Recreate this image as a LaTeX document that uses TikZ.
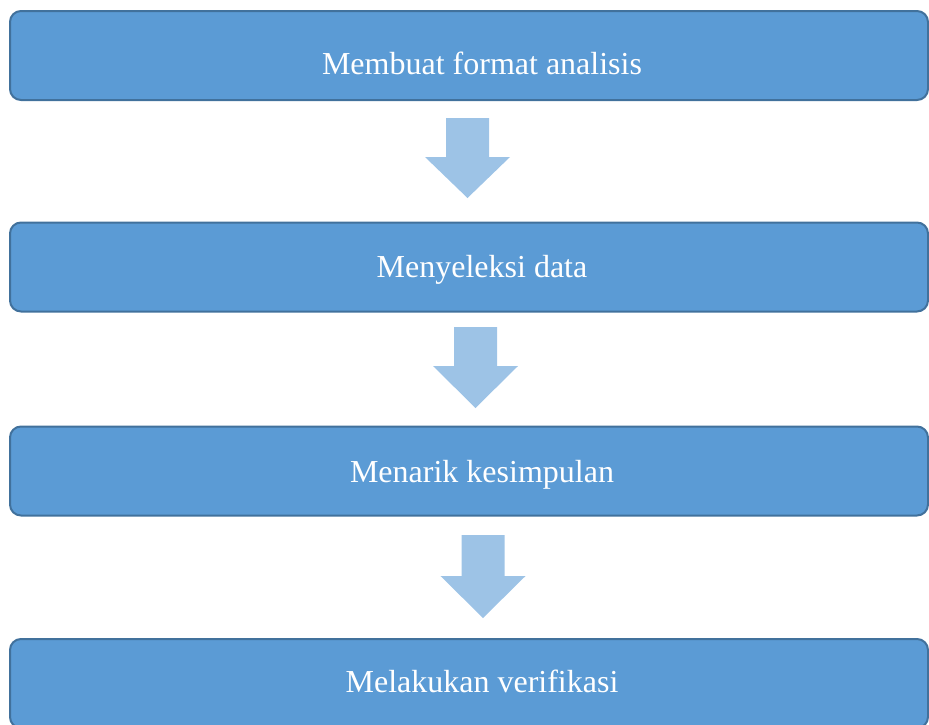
\documentclass[tikz,border=0pt]{standalone}
\usepackage{fontspec}
\setmainfont{Liberation Serif}
\usetikzlibrary{positioning}
\definecolor{boxfill}{HTML}{5B9BD5}
\definecolor{boxline}{HTML}{41719C}
\definecolor{arrowfill}{HTML}{9DC3E6}
\tikzset{
  stepbox/.style={draw=boxline, line width=2pt, fill=boxfill, rounded corners=11pt,
    minimum width=918pt, minimum height=89pt, inner sep=0pt},
  steptext/.style={text=white, font=\fontsize{32}{38}\selectfont, inner sep=0pt, anchor=base},
  flowarrow/.style={fill=arrowfill}
}
% block arrow: centre x, top of shaft, start of head, tip
\newcommand\downblock[4]{%
  \fill[flowarrow] (#1-21.5,#2) -- (#1+21.5,#2) -- (#1+21.5,#3) -- (#1+42.5,#3)
    -- (#1,#4) -- (#1-42.5,#3) -- (#1-21.5,#3) -- cycle;}
\begin{document}
\begin{tikzpicture}[x=1pt,y=-1pt]
      \clip (0,0) rectangle (929,724);
      \node[stepbox] (format) at (469,55.5) {};
      \node[stepbox] (seleksi) at (469,267) {};
      \node[stepbox] (simpulan) at (469,471) {};
      \node[stepbox] (verifikasi) at (469,683.5) {};
      \node[steptext] (t1) at (482,74) {Membuat format analisis};
      \node[steptext] (t2) at (482,277.5) {Menyeleksi data};
      \node[steptext] (t3) at (482,482.5) {Menarik kesimpulan};
      \node[steptext] (t4) at (482,692.5) {Melakukan verifikasi};
      \downblock{467.5}{118}{157}{198}
      \downblock{475.5}{327}{366}{408}
      \downblock{483}{535}{576}{618}
    \end{tikzpicture}
\end{document}
